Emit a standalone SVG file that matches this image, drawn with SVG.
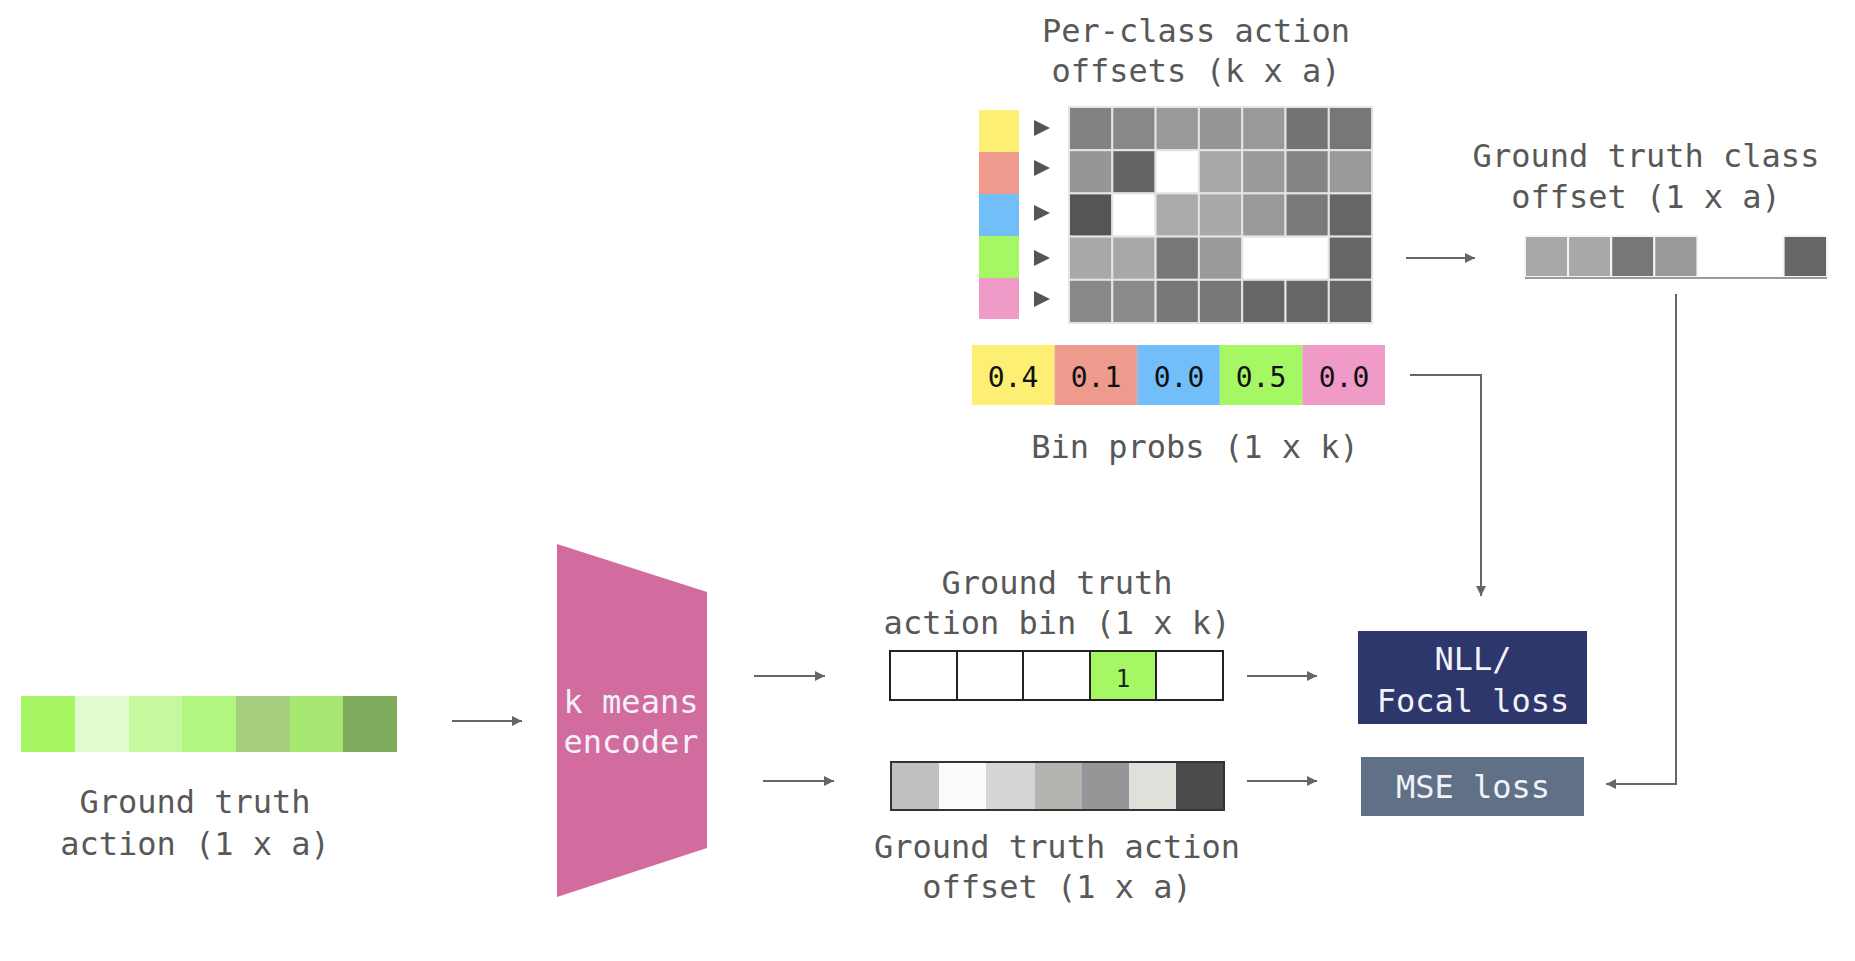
<svg xmlns="http://www.w3.org/2000/svg" width="1855" height="961" viewBox="0 0 1855 961">
<style>
.lbl{font-family:"DejaVu Sans Mono","Liberation Mono",monospace;font-size:32px;fill:#585858;text-anchor:middle}
.num{font-family:"DejaVu Sans Mono","Liberation Mono",monospace;font-size:28px;fill:#111;text-anchor:middle}
.wt{font-family:"DejaVu Sans Mono","Liberation Mono",monospace;font-size:32px;fill:#f2f2f8;text-anchor:middle}
.gc{stroke:#e4e4e4;stroke-width:2}
.conn{fill:none;stroke:#666;stroke-width:2}
.bin{stroke:#222;stroke-width:2}
</style>
<defs>
<marker id="ah" markerUnits="userSpaceOnUse" markerWidth="12" markerHeight="12" refX="10" refY="5" orient="auto">
<path d="M0,0 L10,5 L0,10 Z" fill="#666"/>
</marker>
</defs>
<rect width="1855" height="961" fill="#fff"/>

<g id="gt-action">
<rect x="21" y="696" width="54" height="56" fill="#a5f562"/>
<rect x="75" y="696" width="54" height="56" fill="#e0fbd0"/>
<rect x="129" y="696" width="53" height="56" fill="#c6f99f"/>
<rect x="182" y="696" width="54" height="56" fill="#b2f57f"/>
<rect x="236" y="696" width="54" height="56" fill="#a6d07f"/>
<rect x="290" y="696" width="53" height="56" fill="#a7e873"/>
<rect x="343" y="696" width="54" height="56" fill="#7fab5d"/>
<text class="lbl" x="195" y="813">Ground truth</text>
<text class="lbl" x="195" y="855">action (1 x a)</text>
</g>

<g id="encoder">
<polygon points="557,544 707,592 707,848 557,897" fill="#d36c9e"/>
<text class="wt" x="631" y="713" fill="#fff">k means</text>
<text class="wt" x="631" y="753">encoder</text>
</g>

<g id="gt-bin">
<text class="lbl" x="1057" y="594">Ground truth</text>
<text class="lbl" x="1057" y="634">action bin (1 x k)</text>
<rect class="bin" x="890" y="651" width="67" height="49" fill="#fff"/>
<rect class="bin" x="957" y="651" width="66" height="49" fill="#fff"/>
<rect class="bin" x="1023" y="651" width="67" height="49" fill="#fff"/>
<rect class="bin" x="1090" y="651" width="66" height="49" fill="#a6f764"/>
<rect class="bin" x="1156" y="651" width="67" height="49" fill="#fff"/>
<text x="1123" y="687" font-family="DejaVu Sans Mono, Liberation Mono, monospace" font-size="24" fill="#222" text-anchor="middle">1</text>
</g>

<g id="gt-offset">
<rect x="891" y="762" width="48" height="48" fill="#c0c0c2"/>
<rect x="939" y="762" width="47" height="48" fill="#fbfbf9"/>
<rect x="986" y="762" width="49" height="48" fill="#d6d6d6"/>
<rect x="1035" y="762" width="47" height="48" fill="#b3b6b0"/>
<rect x="1082" y="762" width="47" height="48" fill="#959697"/>
<rect x="1129" y="762" width="47" height="48" fill="#dfe0da"/>
<rect x="1176" y="762" width="48" height="48" fill="#4b4b4b"/>
<rect x="891" y="762" width="333" height="48" fill="none" stroke="#333" stroke-width="2"/>
<text class="lbl" x="1057" y="858">Ground truth action</text>
<text class="lbl" x="1057" y="898">offset (1 x a)</text>
</g>

<g id="nll-loss">
<rect x="1358" y="631" width="229" height="93" fill="#2e376c"/>
<text class="wt" x="1473" y="670" fill="#dcdcec">NLL/</text>
<text class="wt" x="1473" y="712">Focal loss</text>
</g>

<g id="mse-loss">
<rect x="1361" y="757" width="223" height="59" fill="#5f7087"/>
<text class="wt" x="1473" y="798">MSE loss</text>
</g>

<g id="per-class-offsets">
<text class="lbl" x="1196" y="42">Per-class action</text>
<text class="lbl" x="1196" y="82">offsets (k x a)</text>
<rect x="979" y="110" width="40" height="42" fill="#fcef74"/>
<rect x="979" y="152" width="40" height="42" fill="#ee9a8c"/>
<rect x="979" y="194" width="40" height="42" fill="#72bef8"/>
<rect x="979" y="236" width="40" height="42" fill="#a6f764"/>
<rect x="979" y="278" width="40" height="41" fill="#f09ac8"/>
<g fill="#555">
<polygon points="1034,120 1050,128 1034,136"/>
<polygon points="1034,160 1050,168 1034,176"/>
<polygon points="1034,205 1050,213 1034,221"/>
<polygon points="1034,250 1050,258 1034,266"/>
<polygon points="1034,291 1050,299 1034,307"/>
</g>
<g class="gc">
<rect x="1069" y="107" width="43.3" height="43.2" fill="#828282"/>
<rect x="1112.3" y="107" width="43.3" height="43.2" fill="#888"/>
<rect x="1155.6" y="107" width="43.3" height="43.2" fill="#9a9a9a"/>
<rect x="1198.9" y="107" width="43.3" height="43.2" fill="#959595"/>
<rect x="1242.2" y="107" width="43.3" height="43.2" fill="#9a9a9a"/>
<rect x="1285.5" y="107" width="43.3" height="43.2" fill="#747474"/>
<rect x="1328.8" y="107" width="43.3" height="43.2" fill="#777"/>

<rect x="1069" y="150.2" width="43.3" height="43.2" fill="#969696"/>
<rect x="1112.3" y="150.2" width="43.3" height="43.2" fill="#646464"/>
<rect x="1155.6" y="150.2" width="43.3" height="43.2" fill="#fff"/>
<rect x="1198.9" y="150.2" width="43.3" height="43.2" fill="#a8a8a8"/>
<rect x="1242.2" y="150.2" width="43.3" height="43.2" fill="#9a9a9a"/>
<rect x="1285.5" y="150.2" width="43.3" height="43.2" fill="#858585"/>
<rect x="1328.8" y="150.2" width="43.3" height="43.2" fill="#9a9a9a"/>

<rect x="1069" y="193.4" width="43.3" height="43.2" fill="#555"/>
<rect x="1112.3" y="193.4" width="43.3" height="43.2" fill="#fff"/>
<rect x="1155.6" y="193.4" width="43.3" height="43.2" fill="#aaa"/>
<rect x="1198.9" y="193.4" width="43.3" height="43.2" fill="#a8a8a8"/>
<rect x="1242.2" y="193.4" width="43.3" height="43.2" fill="#999"/>
<rect x="1285.5" y="193.4" width="43.3" height="43.2" fill="#7a7a7a"/>
<rect x="1328.8" y="193.4" width="43.3" height="43.2" fill="#666"/>

<rect x="1069" y="236.6" width="43.3" height="43.2" fill="#a8a8a8"/>
<rect x="1112.3" y="236.6" width="43.3" height="43.2" fill="#a8a8a8"/>
<rect x="1155.6" y="236.6" width="43.3" height="43.2" fill="#777"/>
<rect x="1198.9" y="236.6" width="43.3" height="43.2" fill="#999"/>
<rect x="1242.2" y="236.6" width="86.6" height="43.2" fill="#fff"/>
<rect x="1328.8" y="236.6" width="43.3" height="43.2" fill="#666"/>

<rect x="1069" y="279.8" width="43.3" height="43.2" fill="#888"/>
<rect x="1112.3" y="279.8" width="43.3" height="43.2" fill="#8a8a8a"/>
<rect x="1155.6" y="279.8" width="43.3" height="43.2" fill="#777"/>
<rect x="1198.9" y="279.8" width="43.3" height="43.2" fill="#777"/>
<rect x="1242.2" y="279.8" width="43.3" height="43.2" fill="#666"/>
<rect x="1285.5" y="279.8" width="43.3" height="43.2" fill="#666"/>
<rect x="1328.8" y="279.8" width="43.3" height="43.2" fill="#666"/>
</g>
</g>

<g id="bin-probs">
<rect x="972" y="345" width="82.6" height="60" fill="#fcef74"/>
<rect x="1054.6" y="345" width="82.6" height="60" fill="#ee9a8c"/>
<rect x="1137.2" y="345" width="82.6" height="60" fill="#72bef8"/>
<rect x="1219.8" y="345" width="82.6" height="60" fill="#a6f764"/>
<rect x="1302.4" y="345" width="82.6" height="60" fill="#f09ac8"/>
<text class="num" x="1013" y="387">0.4</text>
<text class="num" x="1096" y="387">0.1</text>
<text class="num" x="1179" y="387">0.0</text>
<text class="num" x="1261" y="387">0.5</text>
<text class="num" x="1344" y="387">0.0</text>
<text class="lbl" x="1195" y="458">Bin probs (1 x k)</text>
</g>

<g id="gt-class-offset">
<text class="lbl" x="1646" y="167">Ground truth class</text>
<text class="lbl" x="1646" y="208">offset (1 x a)</text>
<g stroke="#f4f4f4" stroke-width="2">
<rect x="1525" y="236" width="43.1" height="41" fill="#a8a8a8"/>
<rect x="1568.1" y="236" width="43.1" height="41" fill="#a8a8a8"/>
<rect x="1611.2" y="236" width="43.1" height="41" fill="#777"/>
<rect x="1654.3" y="236" width="43.1" height="41" fill="#999"/>
<rect x="1783.6" y="236" width="43.4" height="41" fill="#666"/>
</g>
<line x1="1525" y1="278" x2="1827" y2="278" stroke="#9a9a9a" stroke-width="2"/>
</g>

<g id="connectors">
<line class="conn" x1="452" y1="721" x2="522" y2="721" marker-end="url(#ah)"/>
<line class="conn" x1="754" y1="676" x2="825" y2="676" marker-end="url(#ah)"/>
<line class="conn" x1="763" y1="781" x2="834" y2="781" marker-end="url(#ah)"/>
<line class="conn" x1="1247" y1="676" x2="1317" y2="676" marker-end="url(#ah)"/>
<line class="conn" x1="1247" y1="781" x2="1317" y2="781" marker-end="url(#ah)"/>
<line class="conn" x1="1406" y1="258" x2="1475" y2="258" marker-end="url(#ah)"/>
<path class="conn" d="M1410,375 H1481 V596" marker-end="url(#ah)"/>
<path class="conn" d="M1676,294 V784 H1606" marker-end="url(#ah)"/>
</g>
</svg>
